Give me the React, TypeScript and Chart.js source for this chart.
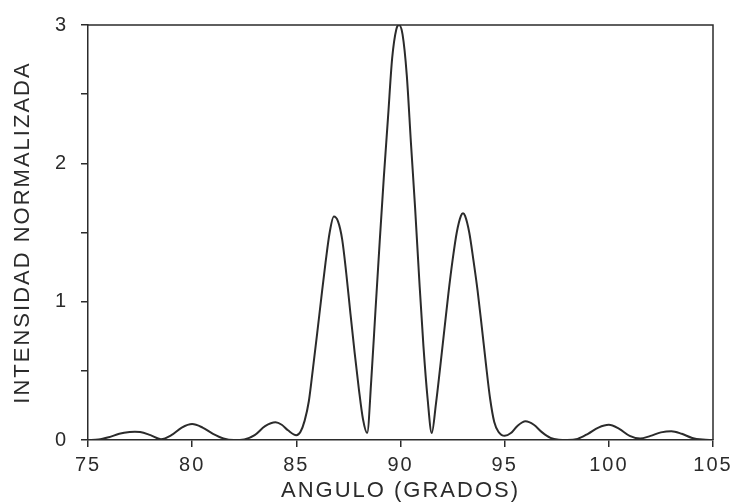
import React, { useEffect, useRef } from "react";
import { Chart, registerables } from "chart.js";

Chart.register(...registerables);

const angles: number[] = [
  75.0, 75.5, 76.0, 76.5, 77.0, 77.25, 77.5, 78.0, 78.5, 79.0, 79.5, 80.0, 80.5, 81.0, 81.5, 82.0, 82.5, 83.0, 83.5, 84.0, 84.3, 84.6,
  85.0, 85.2, 85.4, 85.6, 85.8, 86.0, 86.2, 86.4, 86.6, 86.8, 87.0, 87.2, 87.4, 87.6, 87.8, 88.0, 88.2,
  88.4, 88.6, 88.8, 89.0, 89.2, 89.4, 89.6, 89.8, 89.93, 90.1, 90.3, 90.5, 90.7, 90.9, 91.1, 91.3,
  91.5, 91.7, 91.9, 92.1, 92.3, 92.5, 92.7, 92.9, 93.0, 93.1, 93.3, 93.5, 93.7, 93.9, 94.1, 94.3, 94.5, 94.7,
  95.0, 95.3, 95.6, 96.0, 96.4, 96.8, 97.2, 97.6, 98.0, 98.5, 99.0, 99.5, 100.0, 100.5, 101.0, 101.5, 102.0, 102.5, 103.0, 103.5, 104.0, 104.5, 105.0,
];

const intensity: number[] = [
  0.0, 0.003, 0.02, 0.045, 0.058, 0.06, 0.058, 0.035, 0.006, 0.035, 0.09, 0.115, 0.09, 0.045, 0.012, 0.0, 0.004, 0.035, 0.1, 0.128, 0.11, 0.07,
  0.035, 0.06, 0.14, 0.28, 0.52, 0.77, 1.03, 1.28, 1.5, 1.615, 1.58, 1.45, 1.2, 0.91, 0.63, 0.37, 0.15,
  0.05, 0.44, 0.94, 1.43, 1.9, 2.33, 2.76, 2.97, 3.0, 2.93, 2.64, 2.15, 1.68, 1.16, 0.68, 0.3,
  0.05, 0.26, 0.52, 0.79, 1.06, 1.3, 1.5, 1.62, 1.64, 1.62, 1.5, 1.3, 1.08, 0.82, 0.55, 0.3, 0.13, 0.06,
  0.03, 0.05, 0.1, 0.135, 0.11, 0.055, 0.015, 0.002, 0.0, 0.008, 0.045, 0.09, 0.11, 0.08, 0.03, 0.01, 0.03, 0.055, 0.064, 0.045, 0.015, 0.003, 0.0,
];

const xTicks: number[] = [75, 80, 85, 90, 95, 100, 105];
const yTicks: number[] = [0, 1, 2, 3];
const xTitle = "ANGULO (GRADOS)";
const yTitle = "INTENSIDAD NORMALIZADA";

const INK = "#2b2b2b";
const FONT = "'Liberation Sans', Arial, Helvetica, sans-serif";

const spacingPlugin = {
  id: "spacing",
  beforeDraw(chart: any) {
    (chart.ctx as any).letterSpacing = "2px";
  },
  afterDraw(chart: any) {
    const { ctx, chartArea } = chart;
    ctx.save();
    (ctx as any).letterSpacing = "0px";
    ctx.strokeStyle = INK;
    ctx.lineWidth = 1.5;
    ctx.beginPath();
    ctx.moveTo(chartArea.left, chartArea.top);
    ctx.lineTo(chartArea.right, chartArea.top);
    ctx.lineTo(chartArea.right, chartArea.bottom);
    ctx.stroke();
    ctx.restore();
  },
};

export default function App() {
  const ref = useRef<HTMLCanvasElement | null>(null);

  useEffect(() => {
    if (!ref.current) return;
    const points = angles.map((a, i) => ({ x: a, y: intensity[i] }));
    const chart = new Chart(ref.current, {
      type: "line",
      data: {
        datasets: [
          {
            data: points,
            borderColor: INK,
            borderWidth: 2,
            pointRadius: 0,
            cubicInterpolationMode: "monotone",
            fill: false,
          },
        ],
      },
      options: {
        animation: false,
        responsive: false,
        maintainAspectRatio: false,
        layout: { padding: { top: 25, right: 25, left: 0, bottom: 0 } },
        plugins: { legend: { display: false }, tooltip: { enabled: false }, title: { display: false } },
        scales: {
          x: {
            type: "linear",
            min: 75,
            max: 105,
            afterFit: (s: any) => {
              s.height = 62;
            },
            afterBuildTicks: (s: any) => {
              s.ticks = xTicks.map((v) => ({ value: v }));
            },
            ticks: {
              color: INK,
              font: { family: FONT, size: 20 },
              padding: 6,
              maxRotation: 0,
              autoSkip: false,
              callback: (v: any) => String(v),
            },
            grid: { drawOnChartArea: false, drawTicks: true, tickLength: 7, color: INK, lineWidth: 1.5 },
            border: { display: true, color: INK, width: 1.5 },
            title: {
              display: true,
              text: xTitle,
              color: INK,
              font: { family: FONT, size: 22 },
              padding: { top: 0, bottom: -2 },
            },
          },
          y: {
            type: "linear",
            min: 0,
            max: 3,
            afterFit: (s: any) => {
              s.width = 88;
            },
            afterBuildTicks: (s: any) => {
              const t: any[] = [];
              for (let i = 0; i < yTicks.length; i++) {
                t.push({ value: yTicks[i] });
                if (i < yTicks.length - 1) t.push({ value: (yTicks[i] + yTicks[i + 1]) / 2 });
              }
              s.ticks = t;
            },
            ticks: {
              color: INK,
              font: { family: FONT, size: 20 },
              padding: 13,
              autoSkip: false,
              callback: (v: any) => (yTicks.includes(Number(v)) ? String(v) : ""),
            },
            grid: { drawOnChartArea: false, drawTicks: true, tickLength: 7, color: INK, lineWidth: 1.5 },
            border: { display: true, color: INK, width: 1.5 },
            title: {
              display: true,
              text: yTitle,
              color: INK,
              font: { family: FONT, size: 22 },
              padding: { top: 10, bottom: 0 },
            },
          },
        },
      },
      plugins: [spacingPlugin],
    } as any);
    return () => chart.destroy();
  }, []);

  return (
    <div style={{ position: "absolute", left: 0, top: 0, width: 738, height: 502, background: "#fff" }}>
      <canvas ref={ref} width={738} height={502} style={{ width: 738, height: 502, display: "block" }} />
    </div>
  );
}
